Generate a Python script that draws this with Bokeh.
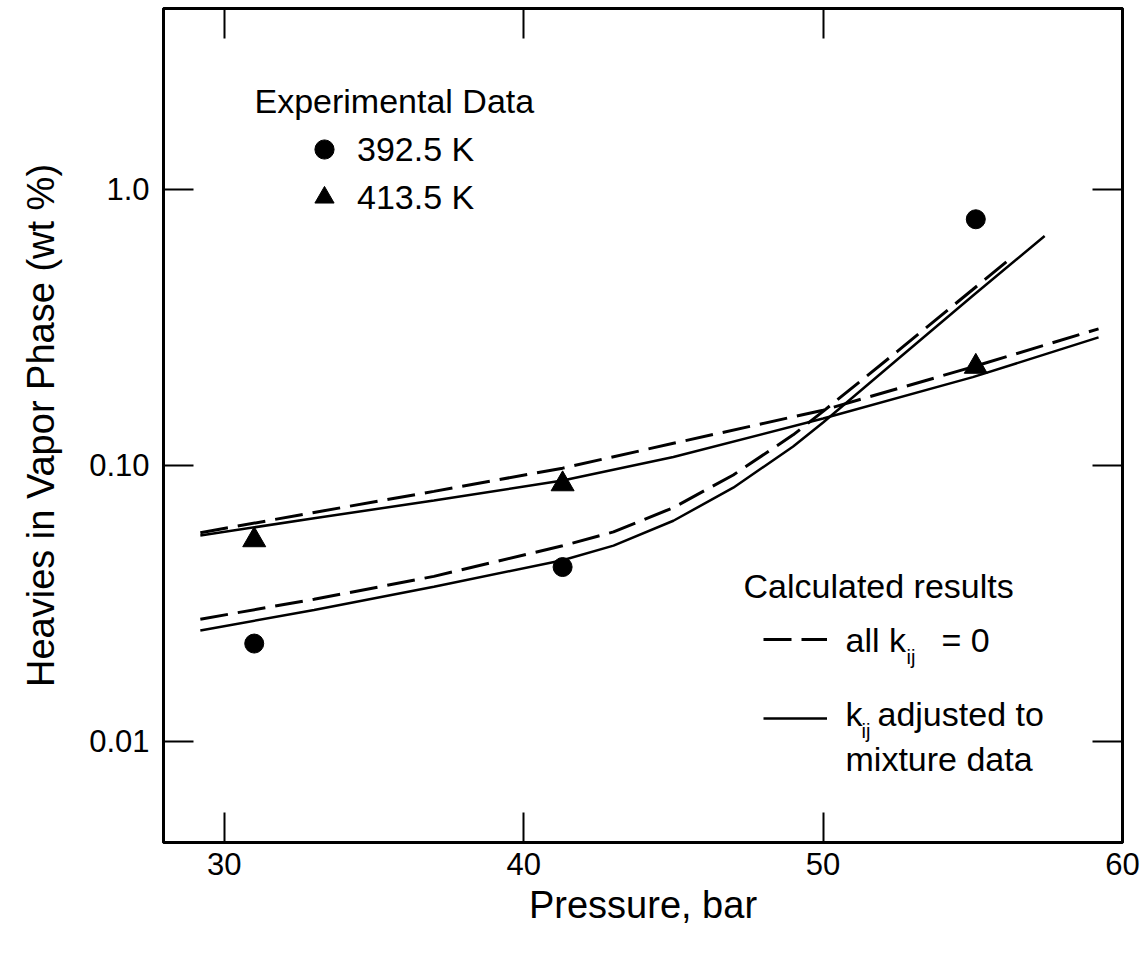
import numpy as np
from bokeh.plotting import figure
from bokeh.models import (FixedTicker, LinearAxis, LogAxis, CustomJSTickFormatter,
                          Label, Legend, LegendItem, Range1d)
from bokeh.embed import file_html
from bokeh.resources import INLINE

# ---------------- data ----------------
x_ticks = [30, 40, 50, 60]
y_ticks = [0.01, 0.1, 1.0]

# Experimental data
p_392 = [31.0, 41.3, 55.1]
w_392 = [0.0226, 0.0428, 0.78]
p_413 = [31.0, 41.3, 55.1]
w_413 = [0.0536, 0.0855, 0.228]

# Calculated: all kij = 0 (dashed)
p_dash_392 = [29.2, 33.0, 37.0, 41.3, 43.0, 45.0, 47.0, 49.0, 50.0, 52.5, 55.0, 56.35]
w_dash_392 = [0.0277, 0.0327, 0.0396, 0.0511, 0.0574, 0.0703, 0.0923, 0.129, 0.157,
              0.260, 0.434, 0.573]
p_dash_413 = [29.2, 33.0, 37.0, 41.3, 45.0, 50.0, 55.0, 59.2]
w_dash_413 = [0.0570, 0.0675, 0.0805, 0.0977, 0.1202, 0.1585, 0.2275, 0.3126]

# Calculated: kij adjusted (solid)
p_sol_392 = [29.2, 33.0, 37.0, 41.3, 43.0, 45.0, 47.0, 49.0, 50.0, 52.5, 55.0, 57.4]
w_sol_392 = [0.0252, 0.0299, 0.0363, 0.0453, 0.0512, 0.0630, 0.0830, 0.117, 0.143,
             0.243, 0.412, 0.678]
p_sol_413 = [29.2, 33.0, 37.0, 41.3, 45.0, 50.0, 55.0, 59.2]
w_sol_413 = [0.0557, 0.0643, 0.0746, 0.0881, 0.1072, 0.1479, 0.2089, 0.2911]

# ---------------- layout ----------------
W, H = 1144, 955
FL, FR, FT, FB = 163, 1122, 8, 842
X0, X1 = 27.97, 60.0
Y0, Y1 = 0.004295, 4.53

FONT = "Liberation Sans"
TXT = "34px"

p = figure(width=W, height=H, y_axis_type="log", output_backend="svg",
           toolbar_location=None, x_range=Range1d(X0, X1), y_range=Range1d(Y0, Y1),
           min_border_left=FL, min_border_right=W - FR, min_border_top=FT,
           min_border_bottom=H - FB)
p.xgrid.visible = False
p.ygrid.visible = False
p.outline_line_color = "black"
p.outline_line_width = 3
p.background_fill_color = "white"
p.border_fill_color = "white"


def px2x(px):
    return float(X0 + (px - FL) / (FR - FL) * (X1 - X0))


def px2y(py):
    l0, l1 = np.log10(Y0), np.log10(Y1)
    return float(10 ** (l0 + (FB - py) / (FB - FT) * (l1 - l0)))


def style_axis(ax):
    ax.axis_line_width = 3
    ax.axis_line_color = "black"
    ax.major_tick_in = 30
    ax.major_tick_out = 0
    ax.major_tick_line_width = 2
    ax.major_tick_line_color = "black"
    ax.minor_tick_line_color = None
    ax.major_label_text_font = FONT
    ax.major_label_text_color = "black"
    ax.axis_label_text_color = "black"
    ax.axis_label_text_font = FONT
    ax.axis_label_text_font_style = "normal"


# bottom
xa = p.xaxis[0]
xa.ticker = FixedTicker(ticks=x_ticks)
style_axis(xa)
xa.major_label_text_font_size = "31px"
xa.major_label_standoff = 10
xa.axis_label = "Pressure, bar"
xa.axis_label_text_font_size = "38px"
xa.axis_label_standoff = 6

# left
ya = p.yaxis[0]
ya.ticker = FixedTicker(ticks=y_ticks)
ya.formatter = CustomJSTickFormatter(
    code="if (tick > 0.5) { return '1.0'; } if (tick > 0.05) { return '0.10'; } return '0.01';")
style_axis(ya)
ya.major_label_text_font_size = "31px"
ya.major_label_standoff = 14
ya.axis_label = "Heavies in Vapor Phase (wt %)"
ya.axis_label_text_font_size = "38px"
ya.axis_label_standoff = 24

# top and right (tick marks only, empty labels)
blank = CustomJSTickFormatter(code="return '';")
ta = LinearAxis(ticker=FixedTicker(ticks=x_ticks[:-1]), formatter=blank)
style_axis(ta)
ta.major_label_text_font_size = "2px"
ta.major_label_standoff = 0
p.add_layout(ta, "above")
ra = LogAxis(ticker=FixedTicker(ticks=y_ticks), formatter=blank)
style_axis(ra)
ra.major_label_text_font_size = "2px"
ra.major_label_standoff = 0
p.add_layout(ra, "right")

# ---------------- curves ----------------
DASH = "28 10"
r_dash = p.line(p_dash_392, w_dash_392, line_color="black", line_width=3, line_dash=DASH)
p.line(p_dash_413, w_dash_413, line_color="black", line_width=3, line_dash=DASH)
r_sol = p.line(p_sol_392, w_sol_392, line_color="black", line_width=2.5)
p.line(p_sol_413, w_sol_413, line_color="black", line_width=2.5)

r_c = p.scatter(p_392, w_392, marker="circle", size=19, fill_color="black", line_color="black")
r_t = p.scatter(p_413, w_413, marker="triangle", size=23, fill_color="black", line_color="black")

# ---------------- legends ----------------
leg1 = Legend(items=[LegendItem(label="392.5 K", renderers=[r_c]),
                     LegendItem(label="413.5 K", renderers=[r_t])],
              location=(300 - FL, FB - 221), orientation="vertical",
              glyph_width=48, glyph_height=48, label_height=48, spacing=0,
              label_standoff=9, padding=0, margin=0,
              label_text_font=FONT, label_text_font_size=TXT,
              label_text_color="black",
              border_line_color=None, background_fill_alpha=0)
p.add_layout(leg1)

leg2 = Legend(items=[LegendItem(label=" ", renderers=[r_dash]),
                     LegendItem(label=" ", renderers=[r_sol])],
              location=(763 - FL, FB - 733), orientation="vertical",
              glyph_width=64, glyph_height=30, label_height=30, spacing=49,
              label_standoff=0, label_width=4, padding=0, margin=0,
              label_text_font=FONT, label_text_font_size="12px",
              border_line_color=None, background_fill_alpha=0)
p.add_layout(leg2)

# ---------------- text annotations ----------------
def add_text(txt, px, py, size=TXT):
    p.add_layout(Label(x=px2x(px), y=px2y(py), text=txt, text_font=FONT,
                       text_font_size=size, text_baseline="middle",
                       text_align="left", text_color="black"))


add_text("Experimental Data", 254, 100)
add_text("Calculated results", 743, 585)
add_text("all k", 845, 639)
add_text("ij", 906, 656, "20px")
add_text("= 0", 941, 639)
add_text("k", 845, 713)
add_text("ij", 861, 730, "20px")
add_text("adjusted to", 877, 713)
add_text("mixture data", 845, 758)

open("out.html", "w").write(file_html(p, INLINE))
